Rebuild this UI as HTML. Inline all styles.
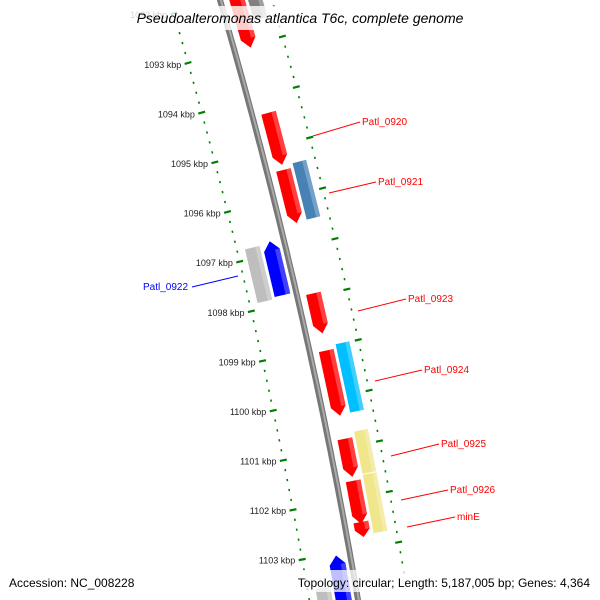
<!DOCTYPE html>
<html><head><meta charset="utf-8"><style>
body{margin:0;background:#fff;}
svg{display:block;font-family:"Liberation Sans",sans-serif;}
</style></head><body>
<svg id="map" width="600" height="600" viewBox="0 0 600 600">
<g id="ticks"></g>
<g id="backbone"></g>
<g id="genes"></g>
<g id="labels"></g>
<rect x="110" y="6" width="380" height="24" fill="#fff" opacity="0.8"/>
<text x="300" y="23" text-anchor="middle" font-size="14" font-style="italic" fill="#000">Pseudoalteromonas atlantica T6c, complete genome</text>
<rect x="0" y="570" width="600" height="22" fill="#fff" opacity="0.75"/>
<text x="9" y="587" font-size="12" fill="#000">Accession: NC_008228</text>
<text x="590" y="587" text-anchor="end" font-size="12" fill="#000">Topology: circular; Length: 5,187,005 bp; Genes: 4,364</text>
</svg>
<script>
const tickKbp = [1092,1093,1094,1095,1096,1097,1098,1099,1100,1101,1102,1103,1104];
const geneNames = ["top-red","Patl_0920","Patl_0921-red","Patl_0921","Patl_0922-gray","Patl_0922","Patl_0923","Patl_0924-red","Patl_0924","Patl_0925-red","Patl_0925","Patl_0926-red","Patl_0926","minE","bottom-blue","bottom-gray","top-gray"];
const geneStart = [-10,117,174,170,240,238,297,354,350,442,437,484,480,525,553,582,-10];
const geneEnd   = [52,169,227,226,294,292,337,419,418,480,479,527,538,540,605,605,28];
const geneLane  = [1,1,1,2,-2,-1,1,1,2,1,2,1,2,1,-1,-2,2];
const geneDir   = [1,1,1,0,0,-1,1,1,0,1,0,1,0,1,-1,0,0];
const geneColor = ["#ff0000","#ff0000","#ff0000","#4682b4","#bebebe","#0000ff","#ff0000","#ff0000","#00bfff","#ff0000","#f0e68c","#ff0000","#f0e68c","#ff0000","#0000ff","#bebebe","#808080"];
const labelText = ["Patl_0920","Patl_0921","Patl_0922","Patl_0923","Patl_0924","Patl_0925","Patl_0926","minE"];
const labelColor= ["#ff0000","#ff0000","#0000ff","#ff0000","#ff0000","#ff0000","#ff0000","#ff0000"];
const labelX = [362,378,143,408,424,441,450,457];
const labelY = [125,185,290,302,373,447,493,520];
const lineFrom = [[313,136],[329,193],[238,276],[358,311],[375,381],[391,456],[401,500],[407,527]];

const NS="http://www.w3.org/2000/svg";
function bx(y){return 220+0.29*y-0.0001*y*y;}
function slope(y){return 0.29-0.0002*y;}
function pt(yc,d){const s=slope(yc),n=Math.sqrt(1+s*s);return [bx(yc)+d/n, yc-d*s/n];}
function kbpY(k){return 50+(k-1093)*50.1;}
function mk(tag,attrs,parent){const e=document.createElementNS(NS,tag);for(const k in attrs)e.setAttribute(k,attrs[k]);parent.appendChild(e);return e;}

const tg=document.getElementById('ticks');
[-48,50].forEach(function(d){
  for(let i=0;i<tickKbp.length-1;i++){
    for(let j=0;j<5;j++){
      const k=tickKbp[i]+j*0.2, yc=kbpY(k);
      const major=j===0;
      const len=major?7:1.6;
      const a=pt(yc,d-len/2),b=pt(yc,d+len/2);
      const l=mk('line',{x1:a[0],y1:a[1],x2:b[0],y2:b[1],stroke:'#008000','stroke-width':2.2},tg);
      
      
      if(major&&d<0){
        const p=pt(yc,d-7);
        const t=mk('text',{x:p[0],y:p[1]+3,'text-anchor':'end','font-size':9,fill:'#222'},tg);
        t.textContent=tickKbp[i]+' kbp';
        
        
      }
    }
  }
});

const bg=document.getElementById('backbone');
function bbPath(d){let s='';for(let y=-20;y<=620;y+=10){const p=pt(y,d);s+=(s?'L':'M')+p[0].toFixed(1)+','+p[1].toFixed(1);}return s;}
const b1=mk('path',{d:bbPath(0),stroke:'#777',fill:'none','stroke-width':6},bg);


const b2=mk('path',{d:bbPath(0.8),stroke:'#aaa',fill:'none','stroke-width':2},bg);



const laneOff={1:[9,24],2:[27,41],'-1':[-22,-6],'-2':[-40,-25]};
const gg=document.getElementById('genes');
for(let i=0;i<geneNames.length;i++){
  const o=laneOff[geneLane[i]],y1=geneStart[i],y2=geneEnd[i],dir=geneDir[i],tip=Math.min(9,(y2-y1)/2);
  let pts;
  if(dir===1){pts=[pt(y1,o[0]),pt(y1,o[1]),pt(y2-tip,o[1]),pt(y2,(o[0]+o[1])/2),pt(y2-tip,o[0])];}
  else if(dir===-1){pts=[pt(y1+tip,o[0]),pt(y1,(o[0]+o[1])/2),pt(y1+tip,o[1]),pt(y2,o[1]),pt(y2,o[0])];}
  else{pts=[pt(y1,o[0]),pt(y1,o[1]),pt(y2,o[1]),pt(y2,o[0])];}
  const p=mk('polygon',{points:pts.map(q=>q[0].toFixed(1)+','+q[1].toFixed(1)).join(' '),fill:geneColor[i]},gg);
  
  
  const w=(o[1]-o[0]);
  const hs=[pt(y1+(dir===-1?tip:0),o[1]-w*0.3),pt(y1+(dir===-1?tip:0),o[1]),pt(y2-(dir===1?tip:0),o[1]),pt(y2-(dir===1?tip:0),o[1]-w*0.3)];
  const h=mk('polygon',{points:hs.map(q=>q[0].toFixed(1)+','+q[1].toFixed(1)).join(' '),fill:'#fff',opacity:0.25},gg);
  
  
}

const lg=document.getElementById('labels');
for(let i=0;i<labelText.length;i++){
  const right=labelX[i]>300;
  const ex=right?labelX[i]-2:labelX[i]+49, ey=labelY[i]-3;
  const l=mk('line',{x1:lineFrom[i][0],y1:lineFrom[i][1],x2:ex,y2:ey,stroke:labelColor[i],'stroke-width':1},lg);
  
  
  const t=mk('text',{x:labelX[i],y:labelY[i],'font-size':10,fill:labelColor[i]},lg);
  t.textContent=labelText[i];
  
  
}
</script>
</body></html>
